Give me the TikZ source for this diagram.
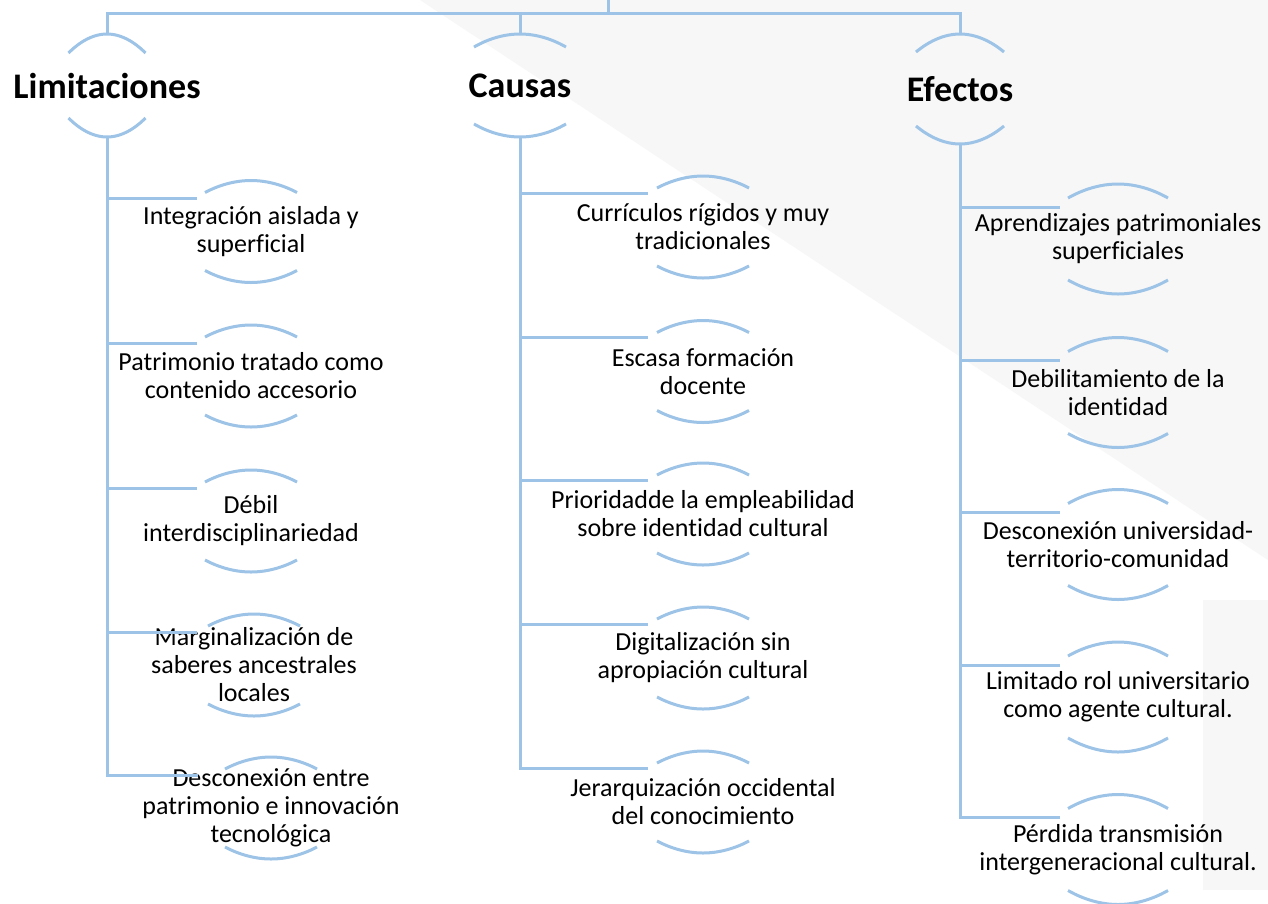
\documentclass[tikz,border=0pt]{standalone}
\usepackage{fontspec}
\setmainfont{Carlito}[Ligatures=NoCommon]
\usepackage{tikz}
\definecolor{linkblue}{HTML}{9DC3E6}
\tikzstyle{link} = [draw=linkblue, line width=3pt]
\tikzstyle{head} = [align=center, inner sep=0pt, font=\bfseries\fontsize{36}{40}\selectfont]
\tikzstyle{item} = [align=center, inner sep=0pt, font=\fontsize{26}{28}\selectfont]
% arcs above and below a node: half width, height of the ends, rise
\tikzset{brackets/.style n args={3}{minimum height={2*(#2+#3)},
  append after command={\pgfextra{\pgfinterruptpath
    \draw [link] ([shift={(-#1,#2)}]\tikzlastnode.center) parabola bend ([shift={(0,#2+#3)}]\tikzlastnode.center) ([shift={(#1,#2)}]\tikzlastnode.center);
    \draw [link] ([shift={(-#1,-#2)}]\tikzlastnode.center) parabola bend ([shift={(0,-#2-#3)}]\tikzlastnode.center) ([shift={(#1,-#2)}]\tikzlastnode.center);
  \endpgfinterruptpath}}}}

\begin{document}
\begin{tikzpicture}[x=1pt, y=1pt]
\useasboundingbox (0,0) rectangle (1268,-903);
\fill [white] (0,0) rectangle (1268,-903);
% faint backdrop
\fill [black!3] (420,0) -- (1268,0) -- (1268,-560) -- cycle;
\fill [black!3] (1203,-600) rectangle (1268,-890);

\node [head, brackets={38.5}{32.5}{19}] (lim) at (107,-85.5) {Limitaciones};
\node [head, brackets={46}{38.5}{13}] (cau) at (520,-85.5) {Causas};
\node [head, brackets={44}{37}{18}] (efe) at (960,-89) {Efectos};

\node [item, brackets={46}{39}{12}] (l1) at (251,-231.5) {Integración aislada y\\superficial};
\node [item, brackets={46}{39}{12}] (l2) at (251,-376) {Patrimonio tratado como\\contenido accesorio};
\node [item, brackets={46}{39}{12}] (l3) at (251,-521) {Débil\\interdisciplinariedad};
\node [item, brackets={46}{39}{12}] (l4) at (254,-665) {Marginalización de\\saberes ancestrales\\locales};
\node [item, brackets={46}{39}{12}] (l5) at (271,-808) {Desconexión entre\\patrimonio e innovación\\tecnológica};

\node [item, brackets={46}{39}{12}] (c1) at (703,-227) {Currículos rígidos y muy\\tradicionales};
\node [item, brackets={46}{39}{12}] (c2) at (703,-371.5) {Escasa formación\\docente};
\node [item, brackets={46}{39}{12}] (c3) at (703,-514) {Prioridadde la empleabilidad\\sobre identidad cultural};
\node [item, brackets={46}{39}{12}] (c4) at (703,-658) {Digitalización sin\\apropiación cultural};
\node [item, brackets={46}{39}{12}] (c5) at (703,-802) {Jerarquización occidental\\del conocimiento};

\node [item, brackets={50}{41}{14}] (e1) at (1118,-239) {Aprendizajes patrimoniales\\superficiales};
\node [item, brackets={50}{41}{14}] (e2) at (1118,-392.5) {Debilitamiento de la\\identidad};
\node [item, brackets={50}{41}{14}] (e3) at (1118,-544.5) {Desconexión universidad-\\territorio-comunidad};
\node [item, brackets={50}{41}{14}] (e4) at (1118,-697) {Limitado rol universitario\\como agente cultural.};
\node [item, brackets={50}{41}{14}] (e5) at (1118,-849.5) {Pérdida transmisión\\intergeneracional cultural.};

\coordinate (top) at (608,0);
\coordinate (bus) at (608,-13);
\draw [link] (top) -- (bus);
\draw [link] (bus) -| (lim.north);
\draw [link] (bus) -| (cau.north);
\draw [link] (bus) -| (efe.north);

\draw [link] (lim.south) |- ([shift={(-54,33)}]l1.center);
\draw [link] (lim.south) |- ([shift={(-54,33)}]l2.center);
\draw [link] (lim.south) |- ([shift={(-54,33)}]l3.center);
\draw [link] (lim.south) |- ([shift={(-57,33)}]l4.center);
\draw [link] (lim.south) |- ([shift={(-73,33)}]l5.center);

\draw [link] (cau.south) |- ([shift={(-55,34)}]c1.center);
\draw [link] (cau.south) |- ([shift={(-55,34)}]c2.center);
\draw [link] (cau.south) |- ([shift={(-55,34)}]c3.center);
\draw [link] (cau.south) |- ([shift={(-55,34)}]c4.center);
\draw [link] (cau.south) |- ([shift={(-55,34)}]c5.center);

\draw [link] (efe.south) |- ([shift={(-58,32)}]e1.center);
\draw [link] (efe.south) |- ([shift={(-58,32)}]e2.center);
\draw [link] (efe.south) |- ([shift={(-58,32)}]e3.center);
\draw [link] (efe.south) |- ([shift={(-58,32)}]e4.center);
\draw [link] (efe.south) |- ([shift={(-58,32)}]e5.center);
\end{tikzpicture}
\end{document}
